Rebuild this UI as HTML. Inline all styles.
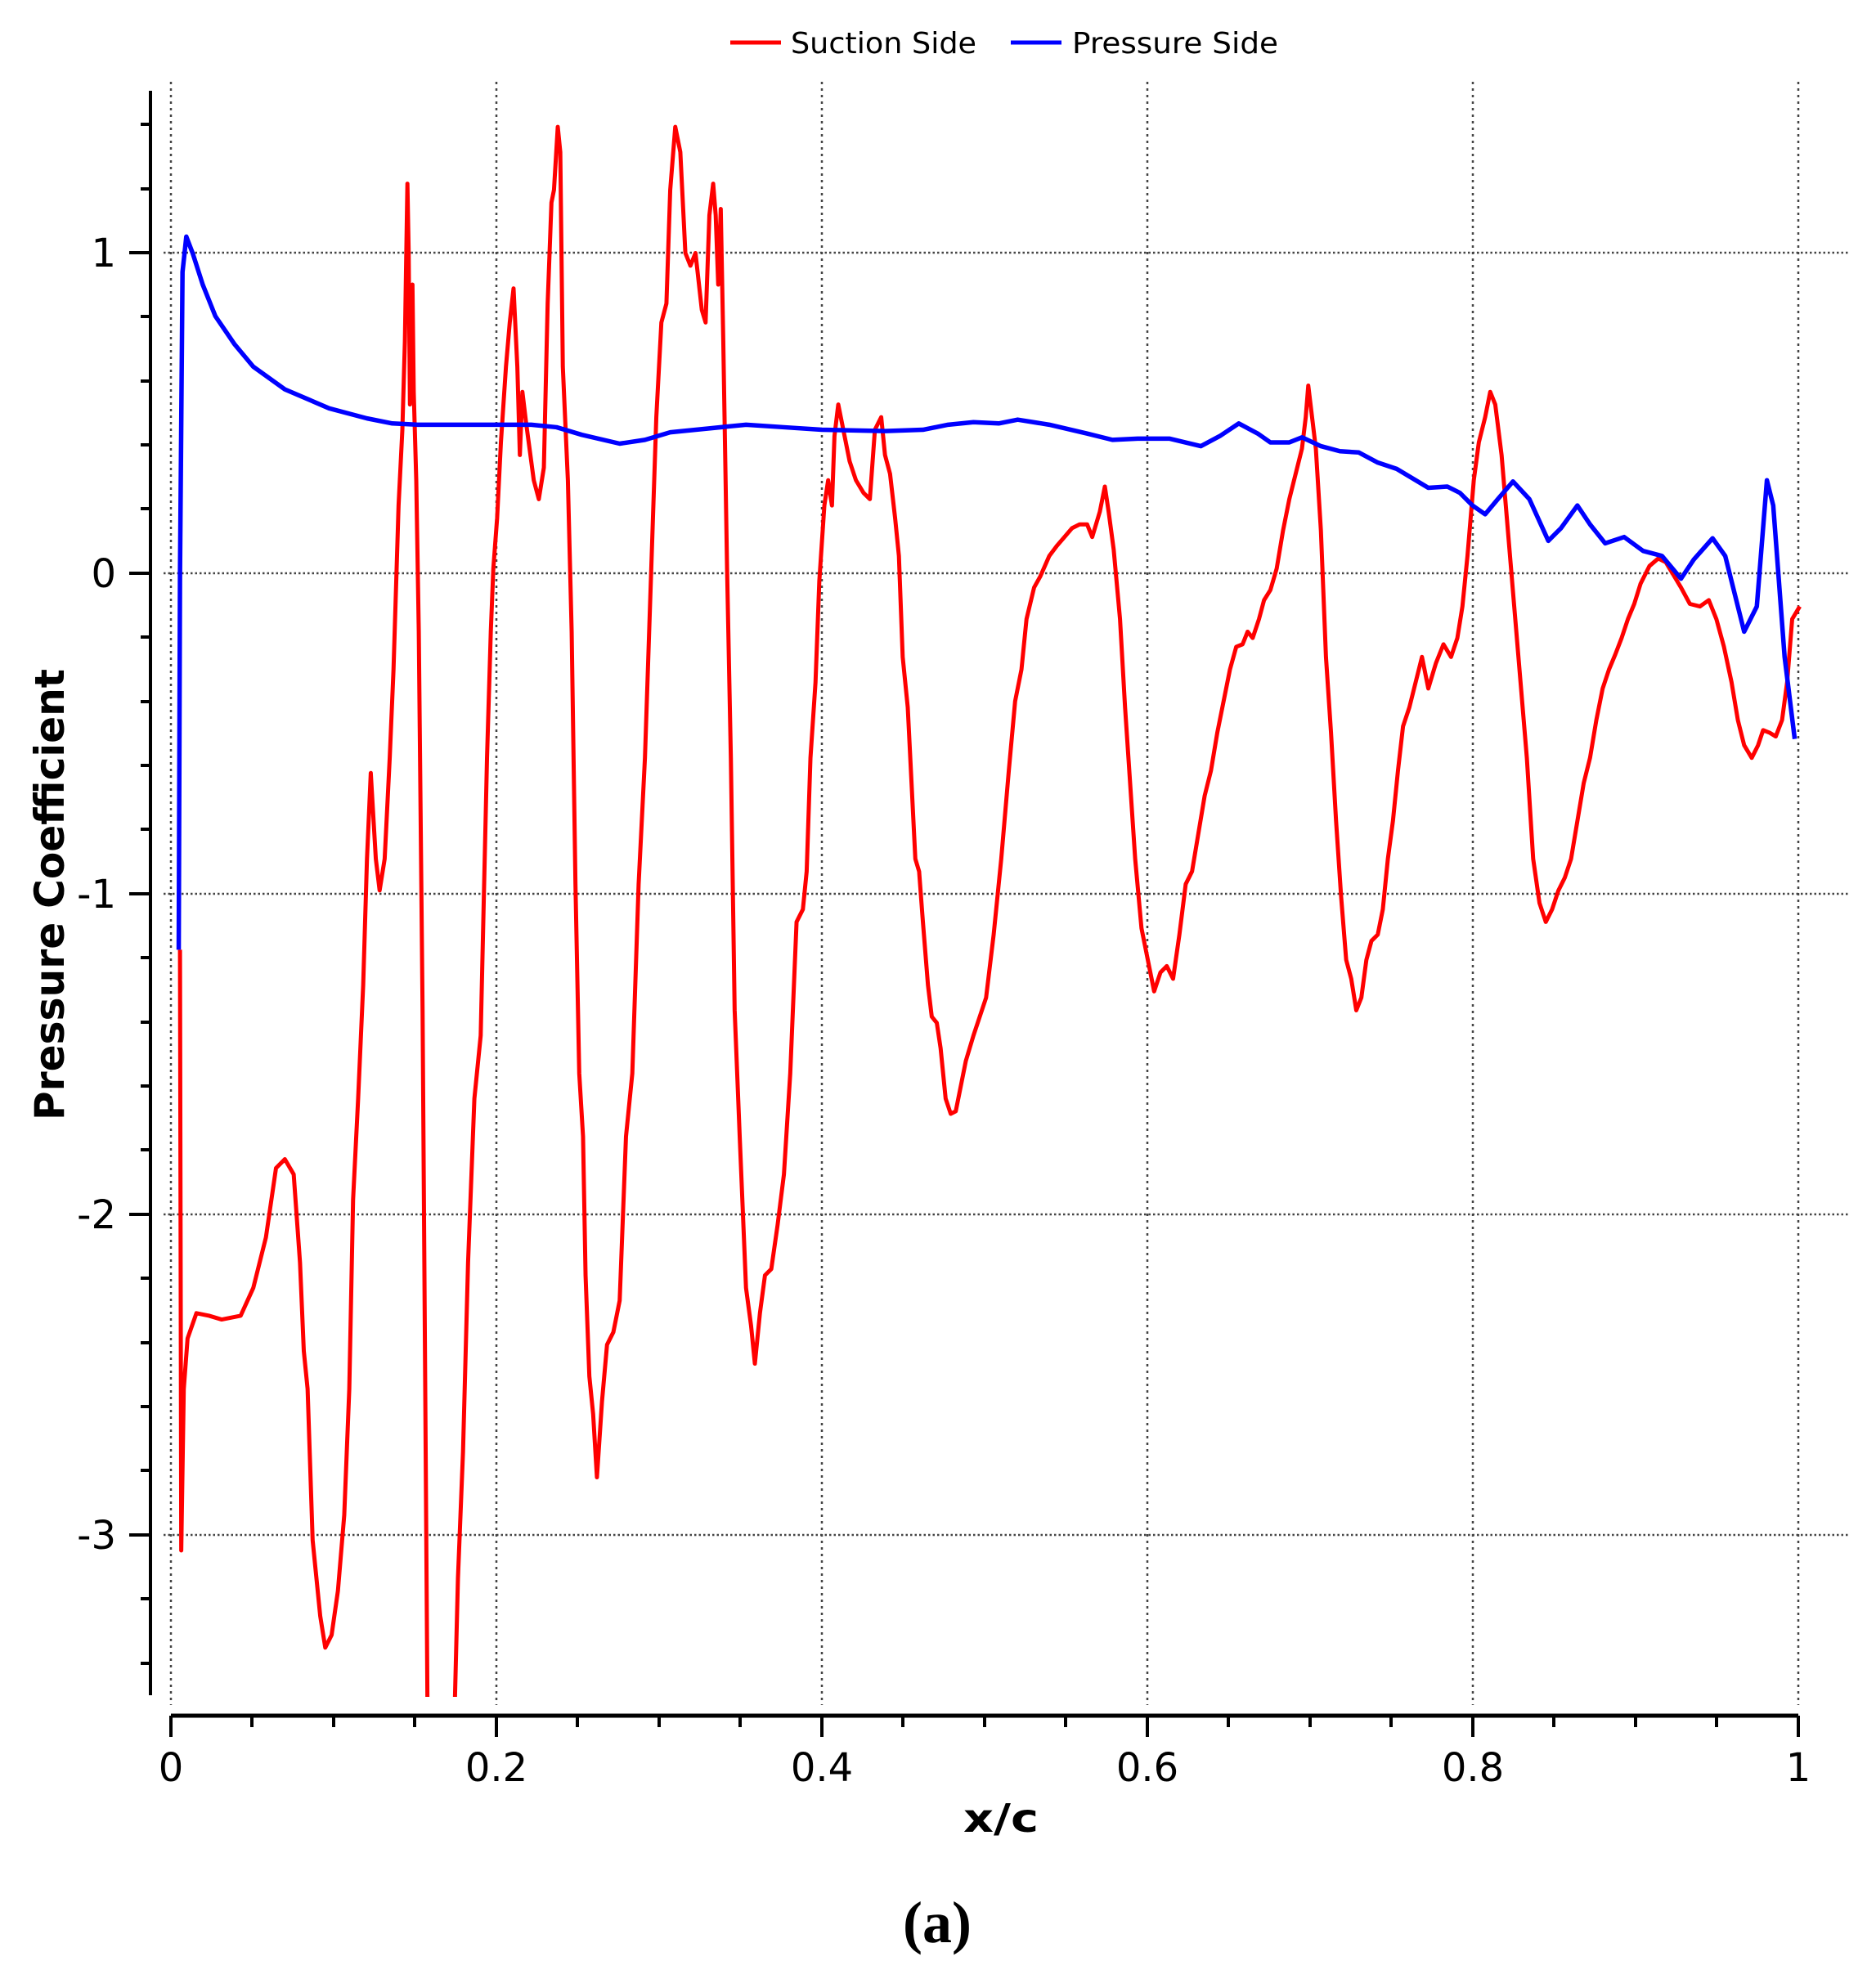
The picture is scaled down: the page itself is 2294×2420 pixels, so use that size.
<!DOCTYPE html>
<html><head><meta charset="utf-8"><style>html,body{margin:0;padding:0;background:#fff}svg{display:block}</style></head>
<body>
<svg width="2294" height="2420" viewBox="0 0 2294 2420" xmlns="http://www.w3.org/2000/svg">
<defs><clipPath id="cp"><rect x="186" y="100" width="2100" height="1975"/></clipPath></defs>
<rect width="2294" height="2420" fill="#fff"/>
<line x1="893" y1="52" x2="955" y2="52" stroke="#f00" stroke-width="5"/>
<text x="967" y="65" font-family="DejaVu Sans, sans-serif" font-size="36" textLength="227" lengthAdjust="spacingAndGlyphs" fill="#000">Suction Side</text>
<line x1="1236" y1="52" x2="1298" y2="52" stroke="#00f" stroke-width="5"/>
<text x="1311" y="65" font-family="DejaVu Sans, sans-serif" font-size="36" textLength="252" lengthAdjust="spacingAndGlyphs" fill="#000">Pressure Side</text>
<g stroke="#444" stroke-width="2.5" stroke-dasharray="3 5">
<line x1="209" y1="100" x2="209" y2="2085"/><line x1="607" y1="100" x2="607" y2="2085"/><line x1="1005" y1="100" x2="1005" y2="2085"/><line x1="1403" y1="100" x2="1403" y2="2085"/><line x1="1801" y1="100" x2="1801" y2="2085"/><line x1="2199" y1="100" x2="2199" y2="2085"/>
</g>
<g stroke="#444" stroke-width="2.5" stroke-dasharray="2.5 3">
<line x1="200" y1="309" x2="2260" y2="309"/><line x1="200" y1="701" x2="2260" y2="701"/><line x1="200" y1="1093" x2="2260" y2="1093"/><line x1="200" y1="1485" x2="2260" y2="1485"/><line x1="200" y1="1877" x2="2260" y2="1877"/>
</g>
<line x1="184" y1="111" x2="184" y2="2073" stroke="#000" stroke-width="4"/>
<g stroke="#000" stroke-width="4">
<line x1="158" y1="309" x2="184" y2="309"/><line x1="158" y1="701" x2="184" y2="701"/><line x1="158" y1="1093" x2="184" y2="1093"/><line x1="158" y1="1485" x2="184" y2="1485"/><line x1="158" y1="1877" x2="184" y2="1877"/>
<line x1="172" y1="152" x2="184" y2="152"/><line x1="172" y1="231" x2="184" y2="231"/><line x1="172" y1="387" x2="184" y2="387"/><line x1="172" y1="466" x2="184" y2="466"/><line x1="172" y1="544" x2="184" y2="544"/><line x1="172" y1="622" x2="184" y2="622"/>
<line x1="172" y1="779" x2="184" y2="779"/><line x1="172" y1="858" x2="184" y2="858"/><line x1="172" y1="936" x2="184" y2="936"/><line x1="172" y1="1014" x2="184" y2="1014"/>
<line x1="172" y1="1171" x2="184" y2="1171"/><line x1="172" y1="1250" x2="184" y2="1250"/><line x1="172" y1="1328" x2="184" y2="1328"/><line x1="172" y1="1406" x2="184" y2="1406"/>
<line x1="172" y1="1563" x2="184" y2="1563"/><line x1="172" y1="1642" x2="184" y2="1642"/><line x1="172" y1="1720" x2="184" y2="1720"/><line x1="172" y1="1798" x2="184" y2="1798"/>
<line x1="172" y1="1955" x2="184" y2="1955"/><line x1="172" y1="2034" x2="184" y2="2034"/>
</g>
<line x1="209" y1="2098" x2="2199" y2="2098" stroke="#000" stroke-width="5"/>
<g stroke="#000" stroke-width="4">
<line x1="209" y1="2098" x2="209" y2="2124"/><line x1="607" y1="2098" x2="607" y2="2124"/><line x1="1005" y1="2098" x2="1005" y2="2124"/><line x1="1403" y1="2098" x2="1403" y2="2124"/><line x1="1801" y1="2098" x2="1801" y2="2124"/><line x1="2199" y1="2098" x2="2199" y2="2124"/>
<line x1="308" y1="2098" x2="308" y2="2112"/><line x1="408" y1="2098" x2="408" y2="2112"/><line x1="507" y1="2098" x2="507" y2="2112"/><line x1="706" y1="2098" x2="706" y2="2112"/><line x1="806" y1="2098" x2="806" y2="2112"/><line x1="905" y1="2098" x2="905" y2="2112"/><line x1="1104" y1="2098" x2="1104" y2="2112"/><line x1="1204" y1="2098" x2="1204" y2="2112"/><line x1="1303" y1="2098" x2="1303" y2="2112"/><line x1="1502" y1="2098" x2="1502" y2="2112"/><line x1="1602" y1="2098" x2="1602" y2="2112"/><line x1="1701" y1="2098" x2="1701" y2="2112"/><line x1="1900" y1="2098" x2="1900" y2="2112"/><line x1="2000" y1="2098" x2="2000" y2="2112"/><line x1="2099" y1="2098" x2="2099" y2="2112"/>
</g>
<g font-family="DejaVu Sans, sans-serif" font-size="48" fill="#000" text-anchor="end">
<text x="142" y="326">1</text><text x="142" y="718">0</text><text x="142" y="1110">-1</text><text x="142" y="1502">-2</text><text x="142" y="1894">-3</text>
</g>
<g font-family="DejaVu Sans, sans-serif" font-size="48" fill="#000" text-anchor="middle">
<text x="209" y="2178">0</text><text x="607" y="2178">0.2</text><text x="1005" y="2178">0.4</text><text x="1403" y="2178">0.6</text><text x="1801" y="2178">0.8</text><text x="2199" y="2178">1</text>
</g>
<text x="1224" y="2240" font-family="DejaVu Sans, sans-serif" font-weight="bold" font-size="48" text-anchor="middle" textLength="92" lengthAdjust="spacingAndGlyphs">x/c</text>
<text transform="translate(78,1094) rotate(-90)" font-family="DejaVu Sans, sans-serif" font-weight="bold" font-size="50" text-anchor="middle" textLength="552" lengthAdjust="spacingAndGlyphs">Pressure Coefficient</text>
<text x="1146" y="2375" font-family="Liberation Serif, serif" font-weight="bold" font-size="72" text-anchor="middle">(a)</text>
<g clip-path="url(#cp)">
<g transform="matrix(1.545 0 0 1.5433 0.7 0.8)" fill="none" stroke-linejoin="round">
<polyline vector-effect="non-scaling-stroke" stroke="#f00" stroke-width="5" points="142,752 143,1228 145,1100 148,1060 155,1040 165,1042 175,1045 190,1042 200,1020 210,980 218,925 225,918 232,930 237,1000 240,1070 243,1100 247,1220 253,1280 257,1305 262,1295 267,1260 272,1200 276,1100 279,950 283,870 287,780 290,680 293,612 297,680 300,705 304,680 308,600 311,530 315,400 318,340 320,270 322,145 323,200 324,320 325,260 326,225 327,310 329,380 331,500 334,800 338,1370 359,1370 362,1250 366,1150 370,1000 375,870 380,820 385,600 388,500 390,450 393,410 396,350 400,290 403,255 406,228 409,290 411,360 413,310 416,335 418,350 422,380 426,395 430,370 433,240 436,160 438,150 441,100 443,120 445,290 449,380 452,500 455,700 458,850 461,900 463,1010 466,1090 469,1120 472,1170 476,1110 480,1065 485,1055 490,1030 495,900 500,850 505,700 510,600 515,450 519,330 523,255 527,240 530,150 534,100 538,120 542,200 546,210 550,200 555,245 558,255 561,170 564,145 566,170 568,225 570,165 572,270 575,450 578,600 581,800 585,900 590,1020 594,1050 597,1080 601,1040 605,1010 610,1005 615,970 620,930 625,850 630,730 635,720 638,690 641,600 645,540 648,460 652,400 655,380 658,400 660,345 663,320 667,340 672,365 677,380 683,390 688,395 692,340 697,330 700,360 704,375 708,410 711,440 714,520 718,560 721,620 724,680 727,690 730,730 734,780 737,805 741,810 744,830 748,870 752,882 756,880 760,860 764,840 770,820 780,790 786,740 792,680 798,610 803,555 808,530 812,490 818,465 823,456 830,440 836,432 842,425 848,418 854,415 860,415 864,425 870,405 874,385 877,405 881,435 886,490 890,560 894,620 898,680 903,735 908,760 913,785 918,770 923,765 928,775 933,740 938,700 943,690 948,660 953,630 958,610 963,580 968,555 973,530 978,512 983,510 987,500 991,505 996,490 1000,475 1005,467 1010,450 1015,420 1020,395 1025,375 1030,355 1033,330 1035,305 1038,330 1041,355 1045,420 1049,520 1053,580 1057,650 1061,710 1065,760 1069,775 1073,800 1077,790 1081,760 1085,745 1090,740 1094,720 1098,680 1102,650 1106,610 1110,575 1115,560 1120,540 1125,520 1130,545 1136,525 1142,510 1148,520 1153,505 1157,480 1161,440 1166,380 1170,350 1175,330 1179,310 1183,320 1188,360 1193,420 1198,480 1203,540 1208,600 1213,680 1218,715 1223,730 1228,720 1233,705 1238,695 1243,680 1248,650 1253,620 1258,600 1263,570 1268,545 1273,530 1278,518 1283,505 1288,490 1293,478 1298,462 1305,448 1312,442 1318,445 1324,455 1330,465 1337,478 1345,480 1352,475 1358,490 1364,512 1370,540 1375,570 1380,590 1386,600 1391,590 1395,578 1400,580 1405,583 1410,570 1414,540 1418,490 1424,480"/>
<polyline vector-effect="non-scaling-stroke" stroke="#00f" stroke-width="5.5" points="141,752 142,455 144,215 147,187 152,200 160,225 170,250 185,272 200,290 225,308 260,323 290,331 310,335 330,336 380,336 420,336 440,338 460,344 490,351 510,348 530,342 560,339 590,336 620,338 650,340 700,341 730,340 750,336 770,334 790,335 805,332 830,336 860,343 880,348 900,347 925,347 950,353 965,345 980,335 995,343 1005,350 1020,350 1030,346 1045,353 1060,357 1075,358 1090,366 1105,371 1120,380 1130,386 1145,385 1155,390 1165,400 1175,407 1185,395 1197,381 1210,395 1225,428 1235,418 1248,400 1258,415 1270,430 1285,425 1300,436 1315,440 1330,458 1340,443 1355,426 1365,440 1380,500 1390,480 1398,380 1403,400 1412,520 1420,585"/>
</g>
</g>
</svg>
</body></html>
